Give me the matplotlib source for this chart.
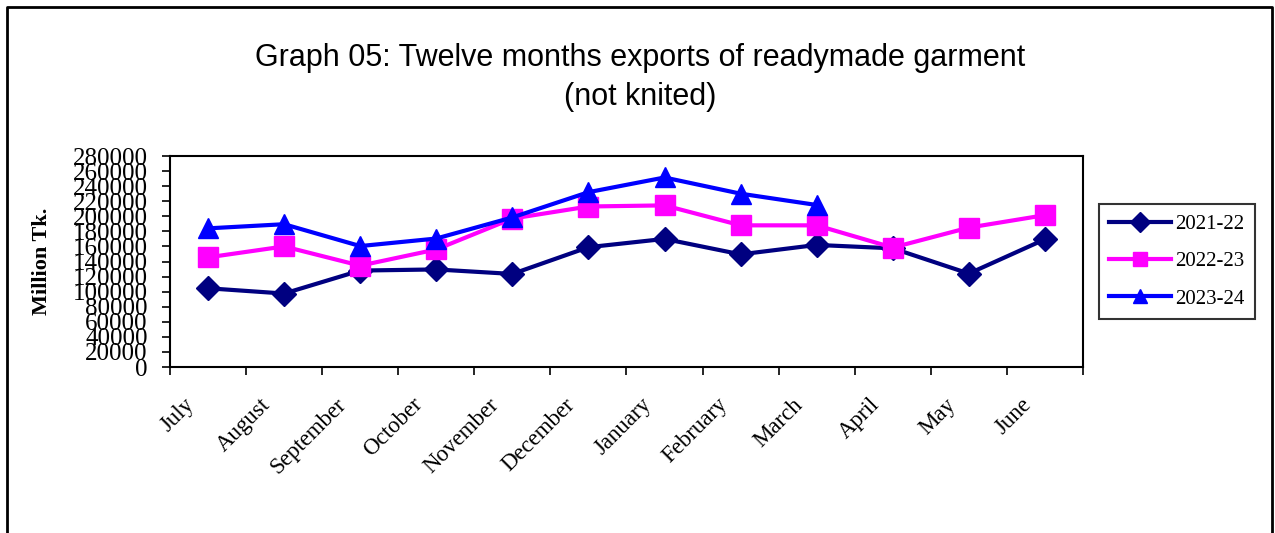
import matplotlib.pyplot as plt
from matplotlib.lines import Line2D
from matplotlib.transforms import ScaledTranslation

# Données (millions de Tk.)
months = ['July', 'August', 'September', 'October', 'November', 'December',
          'January', 'February', 'March', 'April', 'May', 'June']
fy_2021_22 = [104500, 97500, 128000, 129500, 123500, 159000,
              170000, 149500, 162000, 157500, 124000, 169500]
fy_2022_23 = [145500, 160000, 134500, 156000, 197000, 213000,
              214500, 188000, 188000, 158500, 185000, 201500]
fy_2023_24 = [184000, 189500, 160500, 170500, 198500, 232000,
              251500, 230000, 215000]
y_ticks = list(range(0, 280001, 20000))

fig = plt.figure(figsize=(12.75, 5.33), dpi=100)
ax = fig.add_axes([0.1333, 0.3114, 0.7161, 0.3959])

x = list(range(len(months)))
ax.plot(x, fy_2021_22, color='#000080', lw=3, marker='D', ms=12,
        label='2021-22')
ax.plot(x, fy_2022_23, color='#FF00FF', lw=3, marker='s', ms=14,
        label='2022-23')
ax.plot(x[:len(fy_2023_24)], fy_2023_24, color='#0000FF', lw=3, marker='^',
        ms=15, label='2023-24')

ax.set_xlim(-0.5, len(months) - 0.5)
ax.set_ylim(0, 280000)
ax.set_yticks(y_ticks)
ax.set_yticklabels([str(v) for v in y_ticks], fontfamily='Liberation Serif',
                   fontsize=18)
# graduations entre les catégories, étiquettes placées à la main
ax.set_xticks([i - 0.5 for i in range(len(months) + 1)])
ax.set_xticklabels([])
lbl_tr = ax.get_xaxis_transform() + ScaledTranslation(-0.24, -0.27,
                                                      fig.dpi_scale_trans)
for i, m in enumerate(months):
    ax.text(i, 0, m, transform=lbl_tr, rotation=45, ha='right', va='top',
            rotation_mode='anchor', fontfamily='Liberation Serif',
            fontsize=16.5)
ax.tick_params(axis='x', direction='out', length=6, width=1.2)
ax.tick_params(axis='y', direction='out', length=6, width=1.2, pad=10)
for s in ax.spines.values():
    s.set_linewidth(1.5)

ax.set_ylabel('Million Tk.', fontfamily='Liberation Serif', fontsize=16,
              fontweight='bold')
ax.yaxis.set_label_coords(-0.129, 0.5)

leg = ax.legend(loc='center left', bbox_to_anchor=(1.017, 0.5),
                prop={'family': 'Liberation Serif', 'size': 15},
                frameon=True, fancybox=False, edgecolor='black',
                handlelength=3.0, borderpad=0.5, labelspacing=0.85,
                handletextpad=0.2, borderaxespad=0)
leg.get_frame().set_linewidth(1.5)
for h in leg.legend_handles:
    h.set_markersize(10)

fig.text(0.502, 0.891, 'Graph 05: Twelve months exports of readymade garment',
         ha='center', va='center', fontfamily='Liberation Sans', fontsize=22)
fig.text(0.502, 0.818, '(not knited)', ha='center', va='center',
         fontfamily='Liberation Sans', fontsize=22)

# Cadre extérieur (gauche, haut, droite)
fig.add_artist(Line2D([0.0055, 0.0055, 0.9975, 0.9975],
                      [0.0, 0.986, 0.986, 0.0],
                      transform=fig.transFigure, color='black', lw=2))

fig.savefig('out.png', dpi=100)
